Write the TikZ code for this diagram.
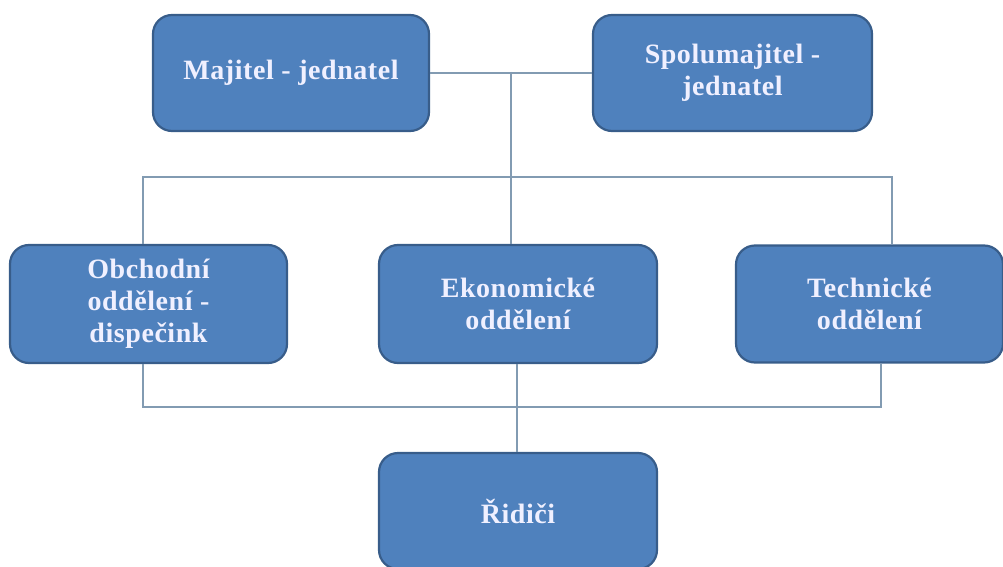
\documentclass[tikz,border=0pt]{standalone}
\usepackage{fontspec}
\setmainfont{Liberation Serif}[LetterSpace=2]
\usetikzlibrary{positioning}
\definecolor{boxfill}{RGB}{79,129,189}
\definecolor{boxedge}{RGB}{56,93,138}
\definecolor{linkline}{RGB}{130,155,178}
\begin{document}
\begin{tikzpicture}[x=1pt,y=-1pt,
  unit/.style={draw=boxedge,line width=2.2pt,fill=boxfill,rounded corners=19pt,
    minimum width=276pt,minimum height=116pt,inner sep=0pt,align=center,
    text=white!94!blue,font=\bfseries\fontsize{28}{32}\selectfont},
  link/.style={draw=linkline,line width=1.5pt}]
  \useasboundingbox (0,0) rectangle (1003,567);
  % owners
  \node[unit] (maj) at (291,73) {Majitel - jednatel};
  \node[unit,minimum width=279pt] (spol) at (732.5,73) {Spolumajitel -\\jednatel};
  % departments
  \node[unit,minimum width=277pt,minimum height=118pt] (obch) at (148.5,304) {Obchodní\\oddělení -\\dispečink};
  \node[unit,minimum width=278pt,minimum height=118pt] (ekon) at (518,304) {Ekonomické\\oddělení};
  \node[unit,minimum width=267pt,minimum height=117pt] (tech) at (869.5,304) {Technické\\oddělení};
  % drivers
  \node[unit,minimum width=278pt] (rid) at (518,511) {Řidiči};
  % connectors
  \coordinate (tj) at (511,72);
  \coordinate (tl) at (143,177);
  \coordinate (tr) at (892,177);
  \coordinate (bl) at (143,407);
  \coordinate (br) at (881,407);
  \coordinate (bm) at (517,407);
  \draw[link] (maj) -- (spol);
  \draw[link] (tj) -- (tj |- ekon.north);
  \draw[link] (obch.north -| tl) -- (tl) -- (tr) -- (tech.north -| tr);
  \draw[link] (obch.south -| bl) -- (bl) -- (br) -- (tech.south -| br);
  \draw[link] (ekon.south -| bm) -- (rid.north -| bm);
\end{tikzpicture}
\end{document}
